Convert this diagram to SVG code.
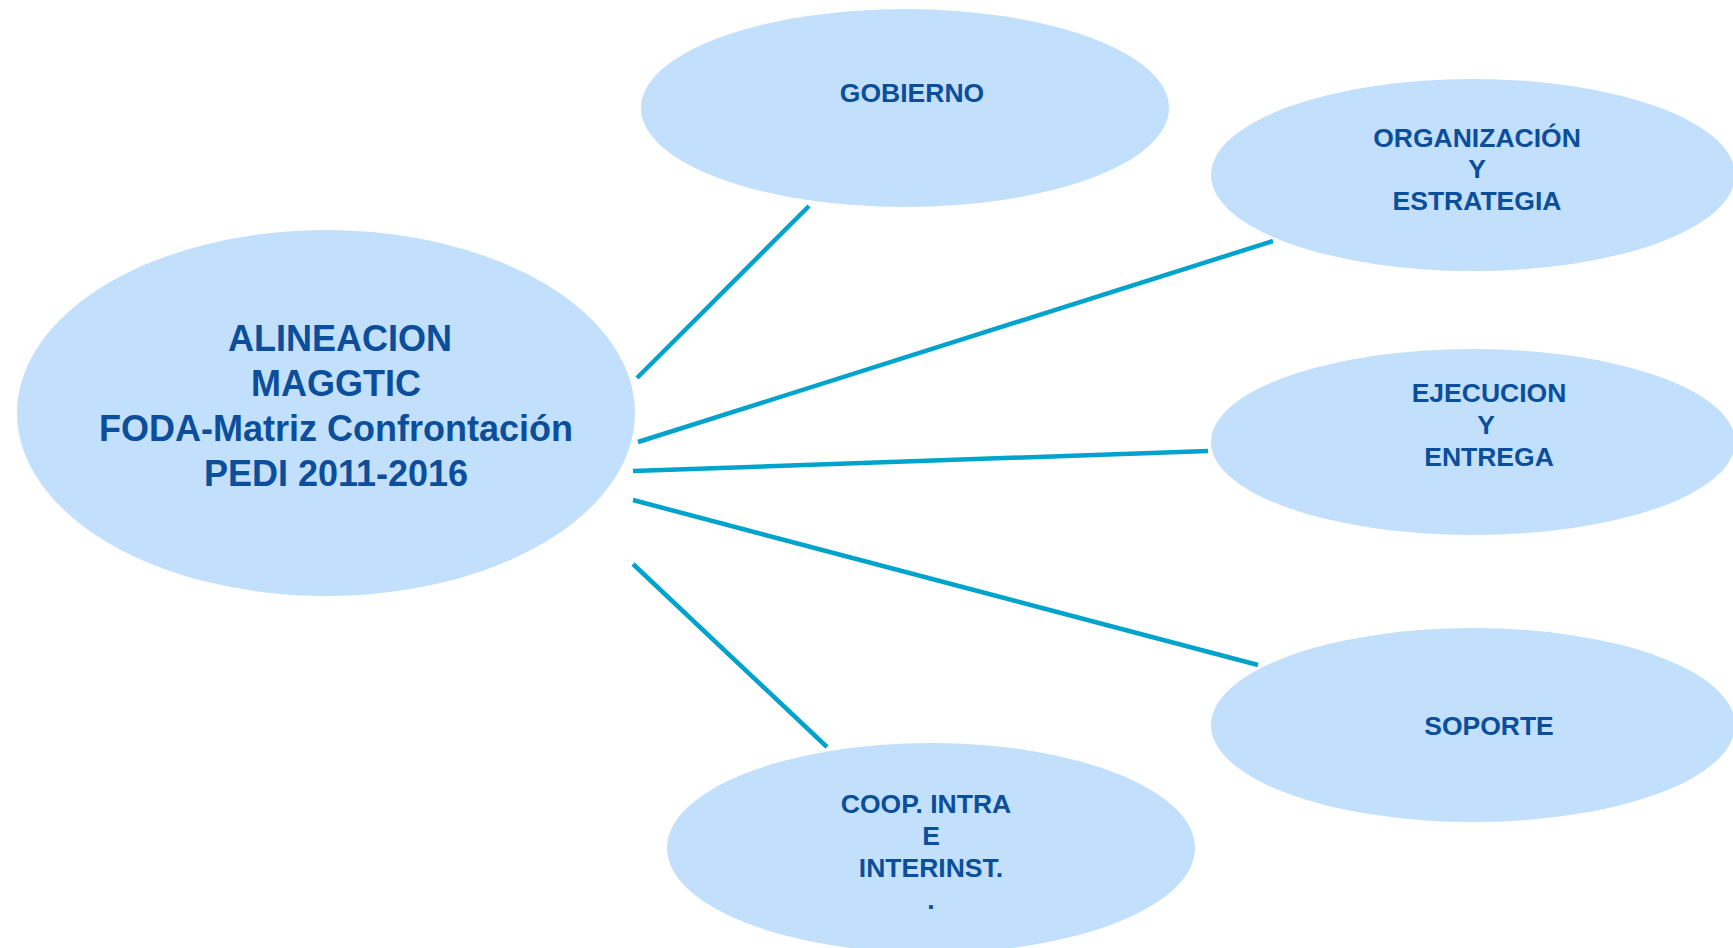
<svg xmlns="http://www.w3.org/2000/svg" width="1733" height="948" viewBox="0 0 1733 948">
<style>
.node{fill:#C2E0FC;}
.lbl{font-family:"Liberation Sans",Arial,sans-serif;font-weight:bold;fill:#0B4E9B;text-anchor:middle;}
.big{font-size:36px;}
.sm{font-size:26.5px;}
.conn{stroke:#00A3CC;stroke-width:4.5;fill:none;}
</style>
<rect width="1733" height="948" fill="#FFFFFF"/>
<g id="connectors">
<line class="conn" x1="637" y1="378" x2="809" y2="206"/>
<line class="conn" x1="638" y1="442" x2="1273" y2="241"/>
<line class="conn" x1="633" y1="471" x2="1208" y2="451"/>
<line class="conn" x1="633" y1="500" x2="1258" y2="665"/>
<line class="conn" x1="633" y1="564" x2="827" y2="747"/>
</g>
<g id="center">
<ellipse class="node" cx="326" cy="413" rx="309" ry="183"/>
<text class="lbl big" x="340" y="351">ALINEACION</text>
<text class="lbl big" x="336" y="396">MAGGTIC</text>
<text class="lbl big" x="336" y="441">FODA-Matriz Confrontación</text>
<text class="lbl big" x="336" y="486">PEDI 2011-2016</text>
</g>
<g id="gobierno">
<ellipse class="node" cx="905" cy="108" rx="264" ry="99"/>
<text class="lbl sm" x="912" y="102">GOBIERNO</text>
</g>
<g id="organizacion">
<ellipse class="node" cx="1473" cy="175" rx="262" ry="96"/>
<text class="lbl sm" x="1477" y="147">ORGANIZACIÓN</text>
<text class="lbl sm" x="1477" y="178">Y</text>
<text class="lbl sm" x="1477" y="210">ESTRATEGIA</text>
</g>
<g id="ejecucion">
<ellipse class="node" cx="1473" cy="442" rx="262" ry="93"/>
<text class="lbl sm" x="1489" y="402">EJECUCION</text>
<text class="lbl sm" x="1486" y="434">Y</text>
<text class="lbl sm" x="1489" y="466">ENTREGA</text>
</g>
<g id="soporte">
<ellipse class="node" cx="1473" cy="725" rx="262" ry="97"/>
<text class="lbl sm" x="1489" y="735">SOPORTE</text>
</g>
<g id="coop">
<ellipse class="node" cx="931" cy="848" rx="264" ry="105"/>
<text class="lbl sm" x="926" y="813">COOP. INTRA</text>
<text class="lbl sm" x="931" y="845">E</text>
<text class="lbl sm" x="931" y="877">INTERINST.</text>
<text class="lbl sm" x="931" y="909">.</text>
</g>
</svg>
